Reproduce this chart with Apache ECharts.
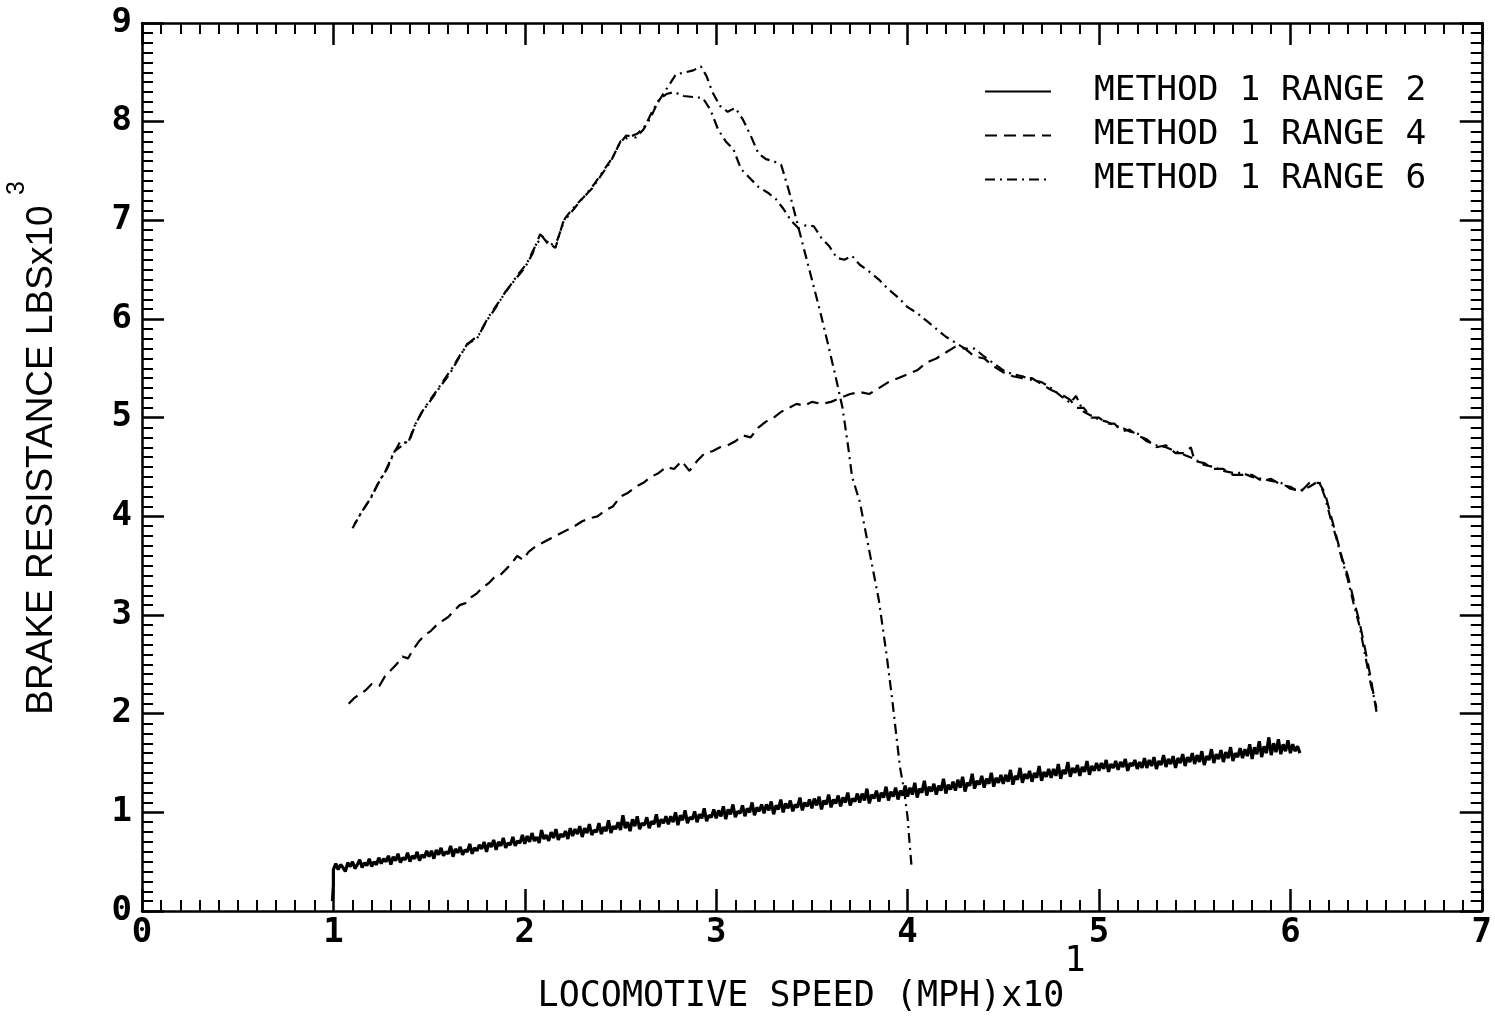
<!DOCTYPE html>
<html><head><meta charset="utf-8">
<script src="https://cdn.jsdelivr.net/npm/echarts@6/dist/echarts.min.js"></script>
<style>html,body{margin:0;padding:0;background:#fff}#c{width:1495px;height:1024px}</style>
</head><body><div id="c"></div>
<script>
// ---- data ----
const seriesNames = ['METHOD 1 RANGE 2', 'METHOD 1 RANGE 4', 'METHOD 1 RANGE 6'];
const xTicks = [0, 1, 2, 3, 4, 5, 6, 7];
const yTicks = [0, 1, 2, 3, 4, 5, 6, 7, 8, 9];

// Range 2 (solid): start jump at 1.0, then samples every 0.0125 from 1.0
const range2Start = [[0.995, 0.10], [1.0, 0.26], [1.0, 0.42]];
const range2X0 = 1.0, range2Step = 0.0125;
const range2Y = [
 0.43,0.48,0.42,0.47,0.44,0.40,0.49,0.45,0.50,0.43,0.47,0.52,0.44,0.49,0.46,0.53,0.45,0.50,0.47,0.54,
 0.48,0.53,0.50,0.56,0.47,0.55,0.51,0.58,0.49,0.54,0.52,0.59,0.50,0.56,0.53,0.60,0.51,0.57,0.54,0.61,
 0.55,0.61,0.53,0.62,0.57,0.64,0.56,0.60,0.58,0.66,0.55,0.63,0.59,0.65,0.57,0.62,0.60,0.68,0.58,0.64,
 0.61,0.67,0.63,0.70,0.60,0.69,0.65,0.72,0.62,0.70,0.66,0.74,0.64,0.69,0.67,0.75,0.66,0.71,0.69,0.77,
 0.68,0.76,0.70,0.79,0.71,0.75,0.69,0.82,0.73,0.77,0.71,0.80,0.74,0.83,0.72,0.78,0.75,0.81,0.73,0.84,
 0.76,0.83,0.78,0.86,0.75,0.84,0.79,0.88,0.77,0.82,0.80,0.89,0.78,0.85,0.81,0.92,0.79,0.86,0.83,0.90,
 0.82,0.97,0.84,0.90,0.81,0.93,0.86,0.96,0.83,0.89,0.87,0.95,0.84,0.91,0.88,0.98,0.85,0.93,0.89,0.96,
 0.88,0.96,0.90,1.00,0.87,0.97,0.92,1.02,0.89,0.95,0.93,1.01,0.90,0.98,0.94,1.04,0.91,0.97,0.95,1.03,
 0.94,1.02,0.96,1.06,0.93,1.03,0.98,1.08,0.95,1.01,0.99,1.07,0.96,1.04,1.00,1.10,0.97,1.05,1.01,1.08,
 0.99,1.08,1.02,1.11,0.98,1.07,1.03,1.13,1.00,1.09,1.04,1.12,1.01,1.08,1.05,1.15,1.02,1.10,1.06,1.13,
 1.04,1.14,1.07,1.16,1.03,1.12,1.08,1.18,1.05,1.13,1.09,1.17,1.06,1.15,1.10,1.20,1.07,1.14,1.11,1.19,
 1.10,1.19,1.12,1.24,1.09,1.18,1.14,1.22,1.11,1.20,1.15,1.26,1.12,1.21,1.16,1.25,1.13,1.22,1.17,1.27,
 1.16,1.25,1.18,1.30,1.15,1.24,1.20,1.32,1.17,1.26,1.21,1.29,1.18,1.27,1.22,1.34,1.19,1.28,1.23,1.31,
 1.22,1.33,1.25,1.36,1.21,1.30,1.27,1.39,1.24,1.32,1.28,1.37,1.25,1.34,1.29,1.40,1.26,1.35,1.30,1.38,
 1.29,1.38,1.31,1.43,1.28,1.37,1.33,1.45,1.30,1.39,1.34,1.42,1.31,1.40,1.35,1.47,1.32,1.41,1.36,1.44,
 1.35,1.44,1.37,1.49,1.34,1.43,1.39,1.51,1.36,1.45,1.40,1.48,1.37,1.46,1.41,1.52,1.38,1.47,1.42,1.50,
 1.42,1.50,1.44,1.53,1.41,1.49,1.45,1.52,1.43,1.51,1.46,1.54,1.42,1.50,1.47,1.53,1.44,1.51,1.45,1.55,
 1.45,1.53,1.47,1.56,1.44,1.52,1.48,1.58,1.46,1.54,1.49,1.57,1.45,1.55,1.50,1.59,1.47,1.56,1.51,1.60,
 1.49,1.58,1.51,1.62,1.48,1.57,1.53,1.64,1.50,1.59,1.54,1.63,1.51,1.61,1.55,1.66,1.52,1.60,1.56,1.65,
 1.55,1.64,1.57,1.69,1.54,1.66,1.59,1.72,1.56,1.67,1.60,1.76,1.58,1.70,1.61,1.74,1.59,1.69,1.62,1.73,
 1.60,1.69,1.62,1.67,1.60
];

// Range 4 (dashed): lower rising curve then shared tail
const range4 = [
 [1.08,2.10],[1.11,2.16],[1.14,2.20],[1.17,2.24],[1.20,2.30],[1.24,2.28],[1.27,2.38],[1.30,2.44],[1.33,2.50],[1.36,2.58],
 [1.39,2.56],[1.42,2.66],[1.45,2.74],[1.48,2.80],[1.51,2.84],[1.54,2.90],[1.57,2.94],[1.60,2.98],[1.63,3.04],[1.66,3.10],
 [1.69,3.12],[1.72,3.18],[1.75,3.22],[1.78,3.28],[1.81,3.32],[1.84,3.38],[1.87,3.40],[1.90,3.46],[1.93,3.52],[1.96,3.60],
 [1.99,3.56],[2.02,3.64],[2.06,3.70],[2.10,3.74],[2.14,3.78],[2.18,3.82],[2.22,3.86],[2.26,3.90],[2.30,3.95],[2.34,3.98],
 [2.38,4.00],[2.42,4.06],[2.46,4.10],[2.50,4.20],[2.54,4.24],[2.58,4.30],[2.62,4.34],[2.66,4.40],[2.70,4.44],[2.74,4.50],
 [2.78,4.48],[2.82,4.56],[2.86,4.46],[2.90,4.56],[2.94,4.64],[2.98,4.66],[3.02,4.70],[3.06,4.72],[3.10,4.76],[3.14,4.82],
 [3.18,4.80],[3.22,4.90],[3.26,4.96],[3.30,5.00],[3.34,5.06],[3.38,5.10],[3.42,5.14],[3.46,5.12],[3.50,5.16],[3.55,5.14],
 [3.60,5.16],[3.65,5.20],[3.70,5.24],[3.75,5.26],[3.80,5.24],[3.85,5.30],[3.90,5.36],[3.95,5.40],[4.00,5.44],[4.05,5.48],
 [4.10,5.56],[4.15,5.60],[4.20,5.66],[4.25,5.72],[4.30,5.70],[4.35,5.62],[4.40,5.60],[4.45,5.52],
 [4.50,5.46],[4.55,5.42],[4.60,5.40],[4.65,5.40],[4.70,5.34],[4.75,5.28],[4.80,5.24],[4.85,5.18],[4.88,5.10],[4.92,5.10],
 [4.96,5.00],[5.00,5.00],[5.04,4.94],[5.08,4.94],[5.12,4.86],[5.16,4.88],[5.20,4.82],[5.25,4.78],[5.30,4.70],[5.35,4.72],
 [5.40,4.64],[5.45,4.64],[5.48,4.70],[5.50,4.56],[5.55,4.54],[5.60,4.48],[5.65,4.48],[5.70,4.42],[5.75,4.42],[5.80,4.42],
 [5.85,4.36],[5.90,4.38],[5.95,4.32],[6.00,4.30],[6.05,4.24],[6.10,4.34],[6.15,4.34],[6.18,4.24],[6.21,4.02],[6.24,3.80],
 [6.27,3.58],[6.30,3.40],[6.33,3.16],[6.36,2.94],[6.39,2.66],[6.42,2.36],[6.45,2.02]
];

// Range 6 (dash-dot), trace A: upper rise, lower peak, gradual fall, shared tail
const range6A = [
 [1.10,3.88],[1.14,4.02],[1.19,4.17],[1.23,4.32],[1.27,4.45],[1.31,4.62],[1.35,4.76],[1.39,4.74],[1.42,4.90],[1.46,5.05],
 [1.51,5.18],[1.56,5.32],[1.61,5.45],[1.66,5.62],[1.70,5.75],[1.75,5.80],[1.80,5.98],[1.85,6.12],[1.90,6.28],[1.95,6.40],
 [2.00,6.52],[2.04,6.66],[2.08,6.86],[2.12,6.78],[2.16,6.72],[2.20,6.98],[2.25,7.10],[2.30,7.22],[2.35,7.32],[2.40,7.46],
 [2.45,7.60],[2.49,7.76],[2.53,7.86],[2.58,7.84],[2.62,7.92],[2.66,8.05],[2.70,8.22],[2.74,8.28],
 [2.78,8.30],[2.83,8.26],[2.88,8.25],[2.93,8.24],[2.97,8.12],[3.01,7.92],[3.05,7.80],[3.09,7.72],[3.13,7.52],[3.17,7.44],
 [3.22,7.34],[3.27,7.28],[3.31,7.22],[3.35,7.12],[3.39,7.00],[3.43,6.92],[3.47,6.95],[3.51,6.94],[3.55,6.82],[3.59,6.74],
 [3.63,6.62],[3.67,6.60],[3.71,6.64],[3.75,6.55],[3.80,6.48],[3.85,6.40],[3.90,6.30],[3.95,6.22],[4.00,6.12],[4.05,6.06],
 [4.10,5.98],[4.15,5.90],[4.20,5.82],[4.25,5.76],[4.30,5.70],[4.35,5.70],[4.40,5.62],[4.45,5.55],
 [4.50,5.48],[4.55,5.44],[4.60,5.42],[4.65,5.38],[4.70,5.36],[4.75,5.30],[4.80,5.22],[4.85,5.15],[4.88,5.22],[4.92,5.06],
 [4.96,5.02],[5.00,4.98],[5.04,4.96],[5.08,4.92],[5.12,4.90],[5.16,4.86],[5.20,4.84],[5.25,4.76],[5.30,4.72],[5.35,4.70],
 [5.40,4.66],[5.45,4.62],[5.50,4.58],[5.55,4.52],[5.60,4.50],[5.65,4.46],[5.70,4.44],[5.75,4.44],[5.80,4.40],[5.85,4.38],
 [5.90,4.36],[5.95,4.34],[6.00,4.28],[6.05,4.26],[6.10,4.30],[6.15,4.36],[6.18,4.20],[6.21,3.98],[6.24,3.78],[6.27,3.56],
 [6.30,3.36],[6.33,3.12],[6.36,2.90],[6.39,2.60],[6.42,2.30],[6.45,2.06]
];

// Range 6, trace B: upper rise, high peak, steep fall to zero near 40 mph
const range6B = [
 [1.11,3.92],[1.15,4.05],[1.20,4.20],[1.24,4.36],[1.28,4.48],[1.32,4.66],[1.36,4.72],[1.40,4.78],[1.43,4.94],[1.47,5.08],
 [1.52,5.22],[1.57,5.36],[1.62,5.50],[1.67,5.66],[1.71,5.76],[1.76,5.84],[1.81,6.02],[1.86,6.16],[1.91,6.30],[1.96,6.44],
 [2.01,6.56],[2.05,6.72],[2.09,6.84],[2.13,6.74],[2.17,6.80],[2.21,7.02],[2.26,7.14],[2.31,7.24],[2.36,7.36],[2.41,7.50],
 [2.46,7.64],[2.50,7.80],[2.54,7.84],[2.59,7.88],[2.63,7.96],[2.67,8.12],[2.71,8.24],
 [2.75,8.36],[2.79,8.48],[2.84,8.50],[2.88,8.52],[2.92,8.56],[2.95,8.46],[2.98,8.30],[3.02,8.16],[3.06,8.10],[3.10,8.14],
 [3.14,8.02],[3.18,7.86],[3.22,7.68],[3.26,7.62],[3.30,7.60],[3.34,7.56],
 [3.38,7.30],[3.42,7.00],[3.46,6.70],[3.50,6.40],[3.54,6.10],[3.58,5.78],[3.62,5.45],[3.66,5.10],[3.69,4.70],[3.71,4.40],
 [3.75,4.15],[3.80,3.65],[3.85,3.15],[3.89,2.60],[3.92,2.14],[3.96,1.46],[3.98,1.25],[4.00,0.95],[4.01,0.70],[4.02,0.47]
];

// ---- build ----
const range2 = range2Start.concat(range2Y.map((v, i) => [+(range2X0 + i * range2Step).toFixed(4), v]));

const tickFont = { fontFamily: 'DejaVu Sans Mono', fontSize: 34, fontWeight: 'bold', color: '#000' };
const axisLine = { show: true, onZero: false, lineStyle: { color: '#000', width: 2.5 } };
const axisTick = { show: true, inside: true, length: 22, lineStyle: { color: '#000', width: 2.5 } };
const minorTick = { show: true, splitNumber: 10, length: 11, lineStyle: { color: '#000', width: 2 } };

function xAx(pos, showLabel) {
  return { type: 'value', min: xTicks[0], max: xTicks[xTicks.length - 1], interval: 1, position: pos,
    axisLine, axisTick, minorTick, splitLine: { show: false },
    axisLabel: Object.assign({ show: showLabel, margin: 5 }, tickFont) };
}
function yAx(pos, showLabel) {
  return { type: 'value', min: yTicks[0], max: yTicks[yTicks.length - 1], interval: 1, position: pos,
    axisLine, axisTick, minorTick, splitLine: { show: false },
    axisLabel: Object.assign({ show: showLabel, margin: 10 }, tickFont) };
}

const chart = echarts.init(document.getElementById('c'), null, { renderer: 'canvas' });
chart.setOption({
  animation: false,
  backgroundColor: '#fff',
  grid: { left: 142, right: 13, top: 23, bottom: 113, containLabel: false },
  xAxis: [xAx('bottom', true), xAx('top', false)],
  yAxis: [yAx('left', true), yAx('right', false)],
  legend: {
    data: seriesNames, orient: 'vertical', left: 979, top: 69,
    itemWidth: 66, itemHeight: 14, itemGap: 9,
    itemStyle: { opacity: 0, borderWidth: 0 },
    textStyle: { fontFamily: 'DejaVu Sans Mono', fontSize: 34.5, color: '#000', lineHeight: 34, padding: [0, 0, 0, 38] }
  },
  graphic: [
    { type: 'text', x: 801, y: 997,
      style: { text: 'LOCOMOTIVE SPEED (MPH)x10', font: '35px "DejaVu Sans Mono"', fill: '#000', align: 'center', verticalAlign: 'middle' } },
    { type: 'text', x: 1075, y: 962,
      style: { text: '1', font: '35px "DejaVu Sans Mono"', fill: '#000', align: 'center', verticalAlign: 'middle' } },
    { type: 'text', x: 42, y: 460, rotation: Math.PI / 2,
      style: { text: 'BRAKE RESISTANCE LBSx10', font: '37px "Liberation Sans"', fill: '#000', align: 'center', verticalAlign: 'middle' } },
    { type: 'text', x: 17, y: 188, rotation: Math.PI / 2,
      style: { text: '3', font: '25px "Liberation Sans"', fill: '#000', align: 'center', verticalAlign: 'middle' } }
  ],
  series: [
    { name: seriesNames[0], type: 'line', data: range2, symbol: 'none', showSymbol: false,
      lineStyle: { color: '#000', width: 3.2, type: 'solid' }, itemStyle: { color: '#000' } },
    { name: seriesNames[1], type: 'line', data: range4, symbol: 'none', showSymbol: false,
      lineStyle: { color: '#000', width: 2.2, type: [12, 7] }, itemStyle: { color: '#000' } },
    { name: seriesNames[2], type: 'line', data: range6A, symbol: 'none', showSymbol: false,
      lineStyle: { color: '#000', width: 2.2, type: [10, 5, 2, 5] }, itemStyle: { color: '#000' } },
    { name: seriesNames[2], type: 'line', data: range6B, symbol: 'none', showSymbol: false,
      lineStyle: { color: '#000', width: 2.2, type: [10, 5, 2, 5], dashOffset: 6 }, itemStyle: { color: '#000' } }
  ]
});
</script></body></html>
